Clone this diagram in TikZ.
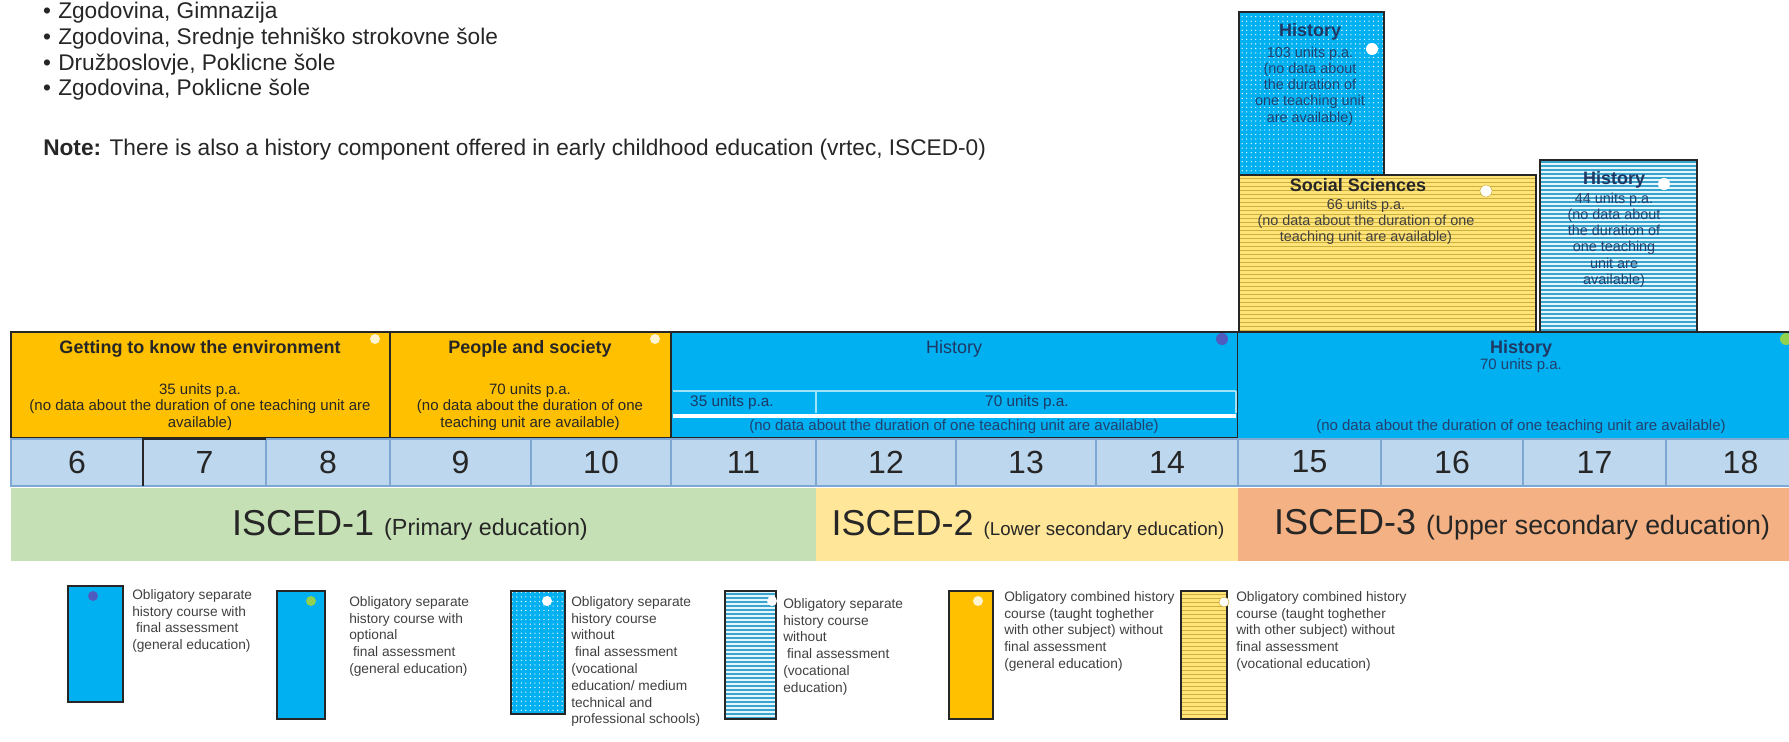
\documentclass[tikz,border=0pt]{standalone}
\usepackage{fontspec}
\setmainfont{Liberation Sans}
\usetikzlibrary{patterns.meta}
\definecolor{ink}{HTML}{262626}
\definecolor{grey}{HTML}{404040}
\definecolor{navy}{HTML}{1F3864}
\definecolor{navybody}{HTML}{23406E}
\definecolor{gold}{HTML}{FFC000}
\definecolor{sky}{HTML}{00B0F0}
\definecolor{pale}{HTML}{9FE3FA}
\definecolor{agefill}{HTML}{BDD7EE}
\definecolor{ageline}{HTML}{7FA7D3}
\definecolor{iscedone}{HTML}{C5E0B4}
\definecolor{iscedtwo}{HTML}{FFE699}
\definecolor{iscedthree}{HTML}{F4B183}
\definecolor{straw}{HTML}{FFE47A}
\definecolor{strawline}{HTML}{CFAE3C}
\definecolor{ice}{HTML}{E4F5FB}
\definecolor{iceline}{HTML}{38A5CF}
\definecolor{dotblue}{HTML}{4F5BBF}
\definecolor{dotgreen}{HTML}{92D050}
\definecolor{cream}{HTML}{FFF4D0}

\begin{document}
\begin{tikzpicture}[x=0.75pt,y=-0.75pt,
  every node/.style={inner sep=0pt},
  lead/.style={font=\fontsize{17}{20}\selectfont,text=ink},
  head/.style={font=\bfseries\fontsize{13.5}{16}\selectfont},
  body/.style={font=\fontsize{11.25}{12.4}\selectfont,align=center},
  tall/.style={font=\fontsize{10.8}{12.2}\selectfont,align=center},
  unit/.style={font=\fontsize{11.5}{12}\selectfont,text=navy},
  frame/.style={draw=ink,line width=0.9pt},
  speckled/.style={preaction={fill=sky},
    pattern={Dots[distance=3.4pt,radius=0.5pt]},pattern color=white},
  strawbox/.style={preaction={fill=straw},
    pattern={Lines[angle=0,distance=3pt,line width=0.7pt]},pattern color=strawline},
  icebox/.style={preaction={fill=ice},
    pattern={Lines[angle=0,distance=3pt,line width=1.3pt]},pattern color=iceline},
  agecell/.style={fill=agefill,draw=ageline,line width=1pt},
  agenum/.style={font=\fontsize{24}{24}\selectfont,text=ink},
  isced/.style={font=\fontsize{27}{27}\selectfont,text=ink},
  legbox/.style={draw=ink,line width=0.9pt},
  legtext/.style={font=\fontsize{10.3}{12.6}\selectfont,text=grey,
    align=left,anchor=north west}]
  \useasboundingbox (0,0) rectangle (1789,742);

  % list of subjects and the note
  \foreach \i/\y/\t in {1/19/{Zgodovina, Gimnazija},
      2/44.5/{Zgodovina, Srednje tehniško strokovne šole},
      3/70/{Družboslovje, Poklicne šole},
      4/95.5/{Zgodovina, Poklicne šole}} {
    \node[lead,anchor=base] (bul\i) at (47,\y) {\textbullet};
    \node[lead,anchor=base west] (item\i) at (58,\y) {\t};
  }
  \node[lead,anchor=base west] (note) at (43,155)
    {\textbf{Note:} There is also a history component offered in early childhood education (vrtec, ISCED-0)};

  % vocational strands above ISCED-3
  \draw[speckled,frame] (1239,12) rectangle (1384,175);
  \node[head,text=navy] (voch) at (1310,32) {History};
  \node[tall,text=navybody] (vochb) at (1310,86)
    {103 units p.a.\\(no data about\\the duration of\\one teaching unit\\are available)};
  \fill[white] (1372,49) circle[radius=6];

  \draw[strawbox,frame] (1239,175) rectangle (1536,332);
  \node[head,text=ink] (socs) at (1358,185) {Social Sciences};
  \node[tall,text=grey] (socsb) at (1366,222)
    {66 units p.a.\\(no data about the duration of one\\teaching unit are available)};
  \draw[fill=white,draw=strawline] (1486,191) circle[radius=6];

  \draw[icebox,frame] (1540,160) rectangle (1697,332);
  \node[head,text=navy] (proh) at (1614,180) {History};
  \node[tall,text=navybody] (prohb) at (1614,240)
    {44 units p.a.\\(no data about\\the duration of\\one teaching\\unit are\\available)};
  \fill[white] (1664,184) circle[radius=6];

  % subjects by grade
  \draw[frame,fill=gold] (11,332) rectangle (390,438);
  \node[head,text=ink] (envt) at (200,349) {Getting to know the environment};
  \node[body,text=ink] (envb) at (200,407)
    {35 units p.a.\\(no data about the duration of one teaching unit are\\available)};
  \fill[cream] (375,339) circle[radius=5];

  \draw[frame,fill=gold] (390,332) rectangle (671,438);
  \node[head,text=ink] (peot) at (530,349) {People and society};
  \node[body,text=ink] (peob) at (530,407)
    {70 units p.a.\\(no data about the duration of one\\teaching unit are available)};
  \fill[cream] (655,339) circle[radius=5];

  \draw[frame,fill=sky] (671,332) rectangle (1238,438);
  \draw[pale,line width=1.2pt] (673,391) -- (1236,391)
    (816,391) -- (816,413) (1236,391) -- (1236,413);
  \draw[white,line width=2.5pt] (673,416) -- (1236,416);
  \node[font=\fontsize{13.5}{16}\selectfont,text=navy] (hisa) at (954,349) {History};
  \node[unit] (hisa35) at (732,403) {35 units p.a.};
  \node[unit] (hisa70) at (1027,403) {70 units p.a.};
  \node[body,text=navybody] (hisab) at (954,427)
    {(no data about the duration of one teaching unit are available)};
  \fill[dotblue] (1222,339) circle[radius=6];

  \fill[sky] (1238,332) rectangle (1815,438);
  \draw[ink,line width=0.9pt] (1238,332) -- (1815,332);
  \node[head,text=navy] (hisb) at (1521,349) {History};
  \node[body,text=navybody] (hisbu) at (1521,366) {70 units p.a.};
  \node[body,text=navybody] (hisbb) at (1521,427)
    {(no data about the duration of one teaching unit are available)};
  \fill[dotgreen] (1786,339) circle[radius=6];

  % ages
  \foreach \a/\l/\r in {6/11/143,7/143/266,8/266/390,9/390/531,10/531/671,
      11/671/816,12/816/956,13/956/1096,14/1096/1238,15/1238/1381,
      16/1381/1523,17/1523/1666,18/1666/1815} {
    \draw[agecell] (\l,439) rectangle (\r,486);
    \node[agenum] (age\a) at ({(\l+\r)/2},462) {\a};
  }
  \draw[ink,line width=1.2pt] (143,486) -- (143,439) -- (266,439);

  % ISCED levels
  \fill[iscedone] (11,488) rectangle (816,561);
  \fill[iscedtwo] (816,488) rectangle (1238,561);
  \fill[iscedthree] (1238,488) rectangle (1815,561);
  \node[isced] (lvl1) at (410,525)
    {ISCED-1 {\fontsize{17.5}{17.5}\selectfont(Primary education)}};
  \node[isced] (lvl2) at (1028,525)
    {ISCED-2 {\fontsize{14}{14}\selectfont(Lower secondary education)}};
  \node[isced] (lvl3) at (1522,525)
    {ISCED-3 {\fontsize{20}{20}\selectfont(Upper secondary education)}};

  % legend
  \draw[legbox,fill=sky] (68,586) rectangle (123,702);
  \fill[dotblue] (93,596) circle[radius=5];
  \node[legtext] (key1) at (132,589)
    {Obligatory separate\\history course with\\~final assessment\\(general education)};

  \draw[legbox,fill=sky] (277,591) rectangle (325,719);
  \fill[dotgreen] (311,601) circle[radius=5];
  \node[legtext] (key2) at (349,596)
    {Obligatory separate\\history course with\\optional\\~final assessment\\(general education)};

  \draw[legbox,speckled] (511,591) rectangle (565,714);
  \fill[white] (547,601) circle[radius=5];
  \node[legtext] (key3) at (571,596)
    {Obligatory separate\\history course\\without\\~final assessment\\(vocational\\education/ medium\\technical and\\professional schools)};

  \draw[legbox,icebox] (725,591) rectangle (776,719);
  \fill[white] (772,601) circle[radius=5];
  \node[legtext] (key4) at (783,598)
    {Obligatory separate\\history course\\without\\~final assessment\\(vocational\\education)};

  \draw[legbox,fill=gold] (949,591) rectangle (993,719);
  \fill[cream] (978,601) circle[radius=5];
  \node[legtext] (key5) at (1004,591)
    {Obligatory combined history\\course (taught toghether\\with other subject) without\\final assessment\\(general education)};

  \draw[legbox,strawbox] (1181,591) rectangle (1227,719);
  \draw[fill=white,draw=strawline] (1224,602) circle[radius=5];
  \node[legtext] (key6) at (1236,591)
    {Obligatory combined history\\course (taught toghether\\with other subject) without\\final assessment\\(vocational education)};
\end{tikzpicture}
\end{document}
